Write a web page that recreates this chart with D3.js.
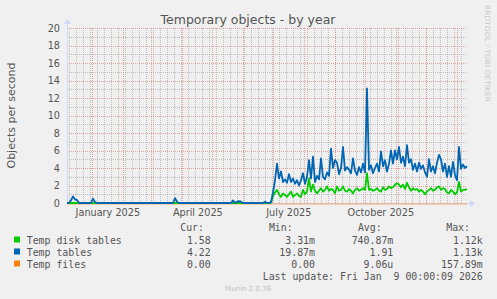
<!DOCTYPE html>
<html>
<head>
<meta charset="utf-8">
<script src="https://cdn.jsdelivr.net/npm/d3@7/dist/d3.min.js"></script>
<style>
  body { margin: 0; background: #f0f0f0; }
  svg { display: block; font-family: "DejaVu Sans", sans-serif; }
  .mono { font-family: "DejaVu Sans Mono", monospace; }
</style>
</head>
<body>
<svg id="chart" width="497" height="299"></svg>
<script>
// one value every 2 days over the 400 day window ending 2026-01-10
const DAY = 86400000;
const startDay = Date.UTC(2024, 11, 6, 16);
const endDay = startDay + 400 * DAY;
const stepDays = 2;

const tempTables = [
  0, 0, 0.3, 0.75, 0.4, 0.35, 0, 0, 0, 0, 0, 0, 0, 0.5, 0.1, 0, 0, 0, 0, 0,
  0, 0, 0, 0, 0, 0, 0, 0, 0, 0, 0, 0, 0, 0, 0, 0, 0, 0, 0, 0,
  0, 0, 0, 0, 0, 0, 0, 0, 0, 0, 0, 0, 0, 0, 0.55, 0.15, 0, 0, 0, 0,
  0, 0, 0, 0, 0, 0, 0, 0, 0, 0, 0, 0, 0, 0, 0, 0, 0, 0, 0, 0,
  0, 0, 0, 0.3, 0, 0.15, 0.2, 0.15, 0, 0, 0, 0, 0, 0, 0, 0, 0, 0, 0, 0.15,
  0, 0, 0.1, 1.2, 2.6, 4.5, 2.8, 3.6, 2.4, 2.7, 2.3, 3.3, 2.4, 2.8, 2.2, 2.6, 2.0, 2.6, 3.4, 2.2,
  3.0, 4.9, 2.8, 5.3, 2.4, 3.1, 2.7, 5.1, 3.0, 2.7, 3.5, 3.1, 6.2, 4.0, 4.9, 4.6, 3.3, 4.0, 6.4, 3.7,
  4.1, 3.8, 3.4, 5.1, 3.7, 3.2, 4.1, 3.5, 4.5, 3.5, 13.1, 3.8, 4.3, 3.4, 4.0, 4.5, 3.6, 5.9, 4.2, 4.9,
  3.6, 4.5, 6.0, 4.5, 6.0, 5.0, 6.4, 4.6, 5.3, 4.2, 6.6, 4.6, 5.0, 3.8, 4.5, 3.6, 4.6, 3.9, 4.3, 3.5,
  3.0, 5.0, 3.6, 4.2, 3.4, 4.6, 5.5, 5.0, 3.6, 4.5, 3.0, 4.2, 3.0, 4.7, 3.2, 2.6, 6.4, 3.9, 4.4, 4.0,
  4.22
];

const tempDiskTables = [
  0, 0, 0, 0, 0, 0, 0, 0, 0, 0, 0, 0, 0, 0, 0, 0, 0, 0, 0, 0,
  0, 0, 0, 0, 0, 0, 0, 0, 0, 0, 0, 0, 0, 0, 0, 0, 0, 0, 0, 0,
  0, 0, 0, 0, 0, 0, 0, 0, 0, 0, 0, 0, 0, 0, 0, 0, 0, 0, 0, 0,
  0, 0, 0, 0, 0, 0, 0, 0, 0, 0, 0, 0, 0, 0, 0, 0, 0, 0, 0, 0,
  0, 0, 0, 0, 0, 0, 0, 0, 0, 0, 0, 0, 0, 0, 0, 0, 0, 0, 0, 0,
  0, 0, 0.05, 0.8, 1.2, 1.5, 1.0, 0.7, 1.1, 0.9, 0.7, 1.0, 1.3, 0.7, 0.9, 1.1, 0.8, 0.7, 1.5, 1.0,
  1.3, 2.8, 1.3, 2.1, 1.4, 1.1, 1.4, 1.7, 1.3, 1.5, 1.9, 1.4, 1.6, 1.5, 1.1, 1.9, 1.4, 1.5, 1.9, 1.4,
  1.3, 1.6, 1.4, 1.1, 1.5, 1.7, 1.4, 1.5, 1.7, 1.5, 3.4, 1.5, 1.6, 1.4, 1.5, 1.7, 1.4, 1.3, 1.8, 1.5,
  1.6, 1.9, 1.7, 1.8, 2.1, 2.25, 2.1, 1.8, 2.1, 1.6, 2.3, 1.8, 1.4, 1.7, 1.5, 1.6, 1.3, 1.5, 1.3, 1.0,
  1.3, 1.5, 1.7, 1.4, 1.5, 1.8, 1.9, 1.5, 1.7, 1.6, 1.2, 1.1, 1.5, 1.3, 1.0, 1.2, 2.4, 1.3, 1.5, 1.5,
  1.58
];

// temp files stays at zero for the whole period
const tempFilesDays = [0, 400];
const tempFiles = [0, 0];

const yTicks = [0, 2, 4, 6, 8, 10, 12, 14, 16, 18, 20];

const legendNames = ['Temp disk tables', 'Temp tables', 'Temp files'];
const legendColors = ['#00cc00', '#0066b3', '#ff8000'];
const curValues = ['1.58', '4.22', '0.00'];
const minValues = ['3.31m', '19.87m', '0.00'];
const avgValues = ['740.87m', '1.91', '9.06u'];
const maxValues = ['1.12k', '1.13k', '157.89m'];

const svg = d3.select('#chart');
const W = 497, H = 299;
const plot = { left: 67, right: 467, top: 28, bottom: 203 };
const nb = s => s.replace(/ /g, '\u00a0');

svg.append('rect').attr('width', W).attr('height', H).attr('fill', '#f0f0f0');

const x = d3.scaleUtc().domain([new Date(startDay), new Date(endDay)]).range([plot.left, plot.right]);
const y = d3.scaleLinear().domain([0, 20]).range([plot.bottom, plot.top]);

const minorColor = 'rgba(150,150,150,0.55)';
const majorColor = 'rgba(225,110,110,0.6)';
const grid = svg.append('g');
// minor grid
const weeks = d3.utcMonday.range(new Date(startDay), new Date(endDay));
grid.selectAll('.wk').data(weeks).enter().append('line')
  .attr('x1', d => Math.round(x(d)) + 0.5).attr('x2', d => Math.round(x(d)) + 0.5)
  .attr('y1', plot.top).attr('y2', plot.bottom)
  .attr('stroke', minorColor).attr('stroke-dasharray', '1,1');
grid.selectAll('.hm').data(d3.range(1, 20, 2)).enter().append('line')
  .attr('x1', plot.left).attr('x2', plot.right)
  .attr('y1', d => Math.round(y(d)) + 0.5).attr('y2', d => Math.round(y(d)) + 0.5)
  .attr('stroke', minorColor).attr('stroke-dasharray', '1,1');
// major grid
const months = d3.utcMonth.range(new Date(startDay), new Date(endDay));
grid.selectAll('.mo').data(months).enter().append('line')
  .attr('x1', d => Math.round(x(d)) + 0.5).attr('x2', d => Math.round(x(d)) + 0.5)
  .attr('y1', plot.top).attr('y2', plot.bottom)
  .attr('stroke', majorColor).attr('stroke-dasharray', '1,1');
grid.selectAll('.hM').data(yTicks.slice(1)).enter().append('line')
  .attr('x1', plot.left).attr('x2', plot.right)
  .attr('y1', d => Math.round(y(d)) + 0.5).attr('y2', d => Math.round(y(d)) + 0.5)
  .attr('stroke', majorColor).attr('stroke-dasharray', '1,1');

// axes
const axisColor = '#cfd6f8';
svg.append('line').attr('x1', plot.left + 0.5).attr('x2', plot.left + 0.5)
  .attr('y1', plot.bottom).attr('y2', plot.top - 6).attr('stroke', axisColor);
svg.append('path').attr('d', `M${plot.left - 3},${plot.top - 4}L${plot.left + 0.5},${plot.top - 9}L${plot.left + 4},${plot.top - 4}Z`).attr('fill', axisColor);
svg.append('line').attr('x1', plot.left).attr('x2', plot.right + 4)
  .attr('y1', plot.bottom + 0.5).attr('y2', plot.bottom + 0.5).attr('stroke', axisColor);
svg.append('path').attr('d', `M${plot.right + 3},${plot.bottom - 3}L${plot.right + 8},${plot.bottom + 0.5}L${plot.right + 3},${plot.bottom + 4}Z`).attr('fill', axisColor);

// y tick labels
svg.append('g').selectAll('text').data(yTicks).enter().append('text')
  .attr('x', 60).attr('y', d => y(d) + 3.5)
  .attr('text-anchor', 'end').attr('font-size', 9.7).attr('fill', '#555')
  .text(d => d);

// x labels every 3 months, placed mid-month
const quarterMonths = months.filter(d => d.getUTCMonth() % 3 === 0 && +d + 15 * DAY < endDay);
svg.append('g').selectAll('text').data(quarterMonths).enter().append('text')
  .attr('x', d => x(new Date(+d + 15.5 * DAY)))
  .attr('y', 216)
  .attr('text-anchor', 'middle').attr('font-size', 9.7).attr('fill', '#555')
  .text(d => d3.utcFormat('%B %Y')(d));

// series, sampled on the pixel grid of the window
const dayOf = i => new Date(startDay + i * stepDays * DAY);
const line = d3.line().x(d => x(d[0])).y(d => y(d[1]));
svg.append('path').datum(tempFilesDays.map((d, i) => [new Date(startDay + d * DAY), tempFiles[i]]))
  .attr('d', line).attr('fill', 'none').attr('stroke', '#ff8000').attr('stroke-width', 1.2)
  .attr('stroke-opacity', 0.6).attr('transform', 'translate(0,1)');
svg.append('path').datum(tempDiskTables.map((v, i) => [dayOf(i), v]))
  .attr('d', line).attr('fill', 'none').attr('stroke', '#00cc00').attr('stroke-width', 1.8)
  .attr('stroke-linejoin', 'round');
svg.append('path').datum(tempTables.map((v, i) => [dayOf(i), v]))
  .attr('d', line).attr('fill', 'none').attr('stroke', '#0066b3').attr('stroke-width', 1.8)
  .attr('stroke-linejoin', 'round');

// titles
svg.append('text').attr('x', 248).attr('y', 24).attr('text-anchor', 'middle')
  .attr('font-size', 12.5).attr('fill', '#555').text('Temporary objects - by year');
svg.append('text').attr('transform', `translate(15,${(plot.top + plot.bottom) / 2}) rotate(-90)`)
  .attr('text-anchor', 'middle').attr('font-size', 11).attr('fill', '#555').text('Objects per second');
svg.append('text').attr('transform', 'translate(485,5) rotate(90)')
  .attr('font-size', 7).attr('fill', '#c8c8c8').attr('textLength', 97)
  .attr('lengthAdjust', 'spacingAndGlyphs').text('RRDTOOL / TOBI OETIKER');

// legend
const lg = svg.append('g').attr('class', 'mono').attr('font-size', 9.9).attr('fill', '#555');
const headers = [['Cur:', 204], ['Min:', 292.7], ['Avg:', 381.7], ['Max:', 470]];
lg.selectAll('.hd').data(headers).enter().append('text')
  .attr('x', d => d[1]).attr('y', 231).attr('text-anchor', 'end').text(d => d[0]);
const rowY = [243.5, 255.5, 267.5];
legendNames.forEach((name, i) => {
  svg.append('rect').attr('x', 14).attr('y', rowY[i] - 7).attr('width', 6).attr('height', 6)
    .attr('fill', legendColors[i]);
  lg.append('text').attr('x', 26.7).attr('y', rowY[i]).text(name);
  const cols = [[curValues[i], 210.7], [minValues[i], 315], [avgValues[i], 393.3], [maxValues[i], 482.7]];
  cols.forEach(([v, rx]) => {
    lg.append('text').attr('x', rx).attr('y', rowY[i]).attr('text-anchor', 'end').text(v);
  });
});
lg.append('text').attr('x', 482.7).attr('y', 279.5).attr('text-anchor', 'end')
  .text(nb('Last update: Fri Jan  9 00:00:09 2026'));
svg.append('text').attr('x', 248).attr('y', 290.5).attr('text-anchor', 'middle')
  .attr('font-size', 7).attr('fill', '#c0c0c0').text('Munin 2.0.76');
</script>
</body>
</html>
